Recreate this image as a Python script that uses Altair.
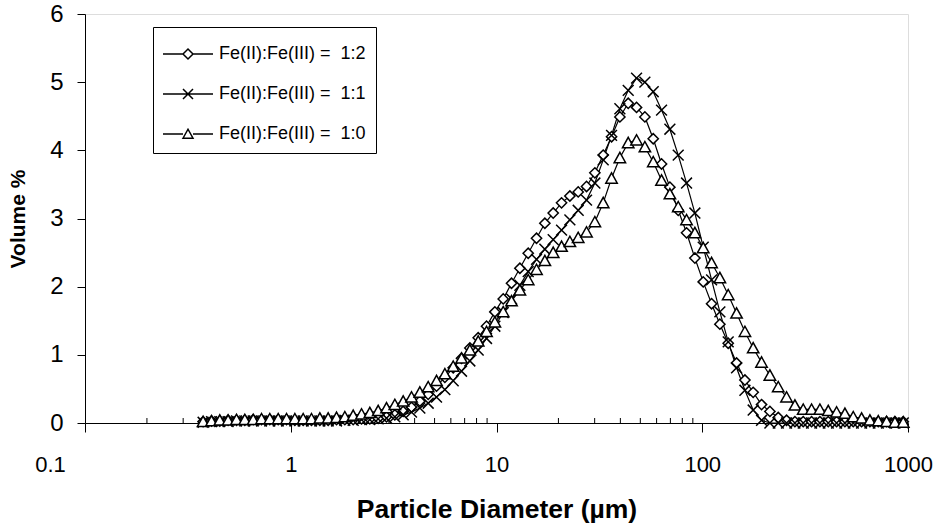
import altair as alt
import pandas as pd

# Particle size channels (µm)
diameters = [
    0.375, 0.412, 0.452, 0.496, 0.545, 0.598, 0.657, 0.721, 0.791, 0.869, 0.954,
    1.047, 1.149, 1.261, 1.385, 1.520, 1.669, 1.832, 2.011, 2.208, 2.423, 2.660,
    2.920, 3.206, 3.519, 3.863, 4.241, 4.656, 5.111, 5.611, 6.159, 6.761, 7.422,
    8.148, 8.944, 9.819, 10.78, 11.83, 12.99, 14.26, 15.65, 17.18, 18.86, 20.71,
    22.73, 24.95, 27.39, 30.07, 33.01, 36.24, 39.78, 43.67, 47.94, 52.62, 57.77,
    63.41, 69.61, 76.42, 83.89, 92.09, 101.1, 111.0, 121.8, 133.7, 146.8, 161.2,
    176.8, 194.2, 213.2, 234.1, 256.9, 282.1, 309.6, 339.9, 373.1, 409.6, 449.7,
    493.6, 541.9, 594.9, 653.0, 716.9, 786.9, 863.9, 948.3,
]

vol_12 = [
    0.02, 0.03, 0.03, 0.04, 0.04, 0.04, 0.05, 0.05, 0.05, 0.05, 0.05,
    0.04, 0.04, 0.04, 0.04, 0.04, 0.05, 0.05, 0.05, 0.06, 0.06, 0.07,
    0.09, 0.12, 0.17, 0.23, 0.32, 0.42, 0.54, 0.67, 0.81, 0.95, 1.10,
    1.25, 1.42, 1.63, 1.82, 2.05, 2.27, 2.49, 2.71, 2.93, 3.08, 3.23,
    3.33, 3.39, 3.47, 3.67, 3.93, 4.20, 4.49, 4.69, 4.63, 4.49, 4.17,
    3.80, 3.46, 3.12, 2.79, 2.42, 2.07, 1.75, 1.45, 1.17, 0.88, 0.63,
    0.45, 0.27, 0.17, 0.08, 0.04, 0.02, 0.02, 0.02, 0.02, 0.02, 0.02,
    0.02, 0.02, 0.02, 0.02, 0.02, 0.02, 0.02, 0.02,
]

vol_11 = [
    0.01, 0.02, 0.02, 0.02, 0.03, 0.03, 0.03, 0.03, 0.03, 0.03, 0.03,
    0.03, 0.03, 0.03, 0.03, 0.03, 0.03, 0.04, 0.04, 0.05, 0.05, 0.06,
    0.07, 0.09, 0.12, 0.16, 0.22, 0.29, 0.38, 0.49, 0.62, 0.76, 0.91,
    1.07, 1.24, 1.42, 1.62, 1.82, 2.02, 2.22, 2.40, 2.55, 2.69, 2.83,
    2.98, 3.12, 3.27, 3.52, 3.86, 4.22, 4.61, 4.88, 5.06, 5.00, 4.86,
    4.59, 4.31, 3.93, 3.52, 3.08, 2.58, 2.10, 1.63, 1.19, 0.81, 0.48,
    0.19, 0.04, 0.00, 0.00, 0.00, 0.00, 0.00, 0.00, 0.00, 0.00, 0.00,
    0.00, 0.00, 0.00, 0.00, 0.00, 0.00, 0.00, 0.00,
]

vol_10 = [
    0.02, 0.03, 0.04, 0.04, 0.05, 0.05, 0.05, 0.06, 0.06, 0.06, 0.06,
    0.06, 0.06, 0.06, 0.07, 0.07, 0.08, 0.09, 0.11, 0.13, 0.15, 0.18,
    0.22, 0.27, 0.32, 0.38, 0.45, 0.53, 0.62, 0.72, 0.83, 0.95, 1.07,
    1.20, 1.34, 1.48, 1.63, 1.79, 1.95, 2.10, 2.25, 2.38, 2.50, 2.59,
    2.66, 2.72, 2.80, 2.95, 3.23, 3.59, 3.89, 4.11, 4.15, 4.05, 3.83,
    3.56, 3.36, 3.17, 2.98, 2.79, 2.57, 2.35, 2.13, 1.88, 1.61, 1.34,
    1.10, 0.89, 0.70, 0.53, 0.38, 0.26, 0.20, 0.20, 0.20, 0.18, 0.16,
    0.14, 0.09, 0.07, 0.04, 0.03, 0.02, 0.01, 0.01,
]

series_names = ["Fe(II):Fe(III) =\u00a0 1:2", "Fe(II):Fe(III) =\u00a0 1:1", "Fe(II):Fe(III) =\u00a0 1:0"]
series_values = [vol_12, vol_11, vol_10]

x_major = [0.1, 1, 10, 100, 1000]
x_minor = [m * 10 ** e for e in (-1, 0, 1, 2) for m in range(2, 10)]
y_ticks = [0, 1, 2, 3, 4, 5, 6]

rows = []
for name, vals in zip(series_names, series_values):
    for d, v in zip(diameters, vals):
        rows.append({"series": name, "d": d, "v": v})
df = pd.DataFrame(rows)

# marker shapes (unit: half marker width)
diamond = "M-1,0L0,-1L1,0L0,1Z"
cross = "M-1,-1L1,1M-1,1L1,-1"
triangle = "M-1,0.85L0,-0.95L1,0.85Z"
# legend symbols: line through marker
lg_diamond = "M-1,0L3,0M5,0L9,0M3,0L4,-1L5,0L4,1Z"
lg_cross = "M-1,0L9,0M3,-1L5,1M3,1L5,-1"
lg_triangle = "M-1,0L3,0M5,0L9,0M3,0.85L4,-0.95L5,0.85Z"

W, H = 823, 409
FONT = "Liberation Sans, Arial"

xscale = alt.Scale(type="log", domain=[0.1, 1000])
yscale = alt.Scale(domain=[0, 6])

base = alt.Chart(df)

lines = base.mark_line(color="black", strokeWidth=1.2).encode(
    x=alt.X("d:Q", scale=xscale,
            axis=alt.Axis(values=x_major, format="~g", title="Particle Diameter (µm)",
                          tickSize=9, tickColor="black", domainColor="black",
                          labelFont=FONT, labelFontSize=22, labelColor="black",
                          labelPadding=22, labelFlush=False,
                          labelOffset={"condition": {"test": "datum.value < 0.5", "value": -35}, "value": 0},
                          titleFont=FONT, titleFontSize=26.5, titleFontWeight="bold",
                          titleColor="black", titleX=W / 2, titleY=94,
                          titleBaseline="alphabetic", titleAlign="center", grid=False)),
    y=alt.Y("v:Q", scale=yscale,
            axis=alt.Axis(values=y_ticks, format="d", title="Volume %", tickSize=8,
                          tickColor="black", domainColor="black", labelFont=FONT,
                          labelFontSize=24, labelColor="black", labelPadding=14,
                          titleFont=FONT, titleFontSize=21, titleFontWeight="bold",
                          titleColor="black", titleX=-67, titleY=H / 2, titleAngle=270,
                          titleAlign="center", titleBaseline="middle", grid=False)),
    detail="series:N",
    order="d:Q",
)

points = base.mark_point(filled=False, fill="white", stroke="black", strokeWidth=1.5,
                         opacity=1, fillOpacity=1).encode(
    x=alt.X("d:Q", scale=xscale),
    y=alt.Y("v:Q", scale=yscale),
    shape=alt.Shape("series:N", scale=alt.Scale(domain=series_names,
                                                range=[diamond, cross, triangle]),
                    legend=None),
    size=alt.Size("series:N", scale=alt.Scale(domain=series_names, range=[105, 130, 120]),
                  legend=None),
)

minor_df = pd.DataFrame({"t": x_minor})
minor = alt.Chart(minor_df).mark_rule(color="black", strokeWidth=1).encode(
    x=alt.X("t:Q", scale=xscale),
    y=alt.value(H - 5),
    y2=alt.value(H),
)

legend_layer = base.mark_point(filled=False, fill="white", stroke="black", strokeWidth=1.3,
                               opacity=1, size=100).encode(
    x=alt.X("d:Q", scale=xscale),
    y=alt.Y("v:Q", scale=yscale),
    shape=alt.Shape("series:N",
                    scale=alt.Scale(domain=series_names,
                                    range=[lg_diamond, lg_cross, lg_triangle]),
                    legend=alt.Legend(title=" ", titleFontSize=1, titlePadding=7,
                                      orient="none", legendX=68, legendY=13,
                                      direction="vertical", labelFont=FONT, labelFontSize=18,
                                      labelColor="black", labelOffset=42, symbolOffset=-4,
                                      rowPadding=22, padding=10, strokeColor="black",
                                      fillColor="white", labelLimit=400)),
).transform_filter("false")

chart = alt.layer(minor, lines, points, legend_layer).resolve_scale(
    shape="independent", size="independent"
).resolve_legend(shape="independent").properties(
    width=W, height=H,
    padding={"left": 85, "top": 14, "right": 31, "bottom": 100},
    autosize=alt.AutoSizeParams(type="none"),
).configure_view(stroke="#808080", strokeWidth=1.5).configure(background="white")

chart.save("out.html", embed_options={"renderer": "svg", "actions": False})
